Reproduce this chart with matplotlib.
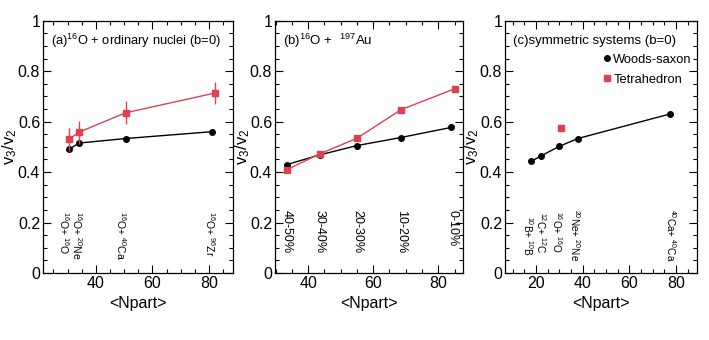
import matplotlib.pyplot as plt
from matplotlib.ticker import MultipleLocator, FuncFormatter

plt.rcParams['font.family'] = ['Liberation Sans', 'DejaVu Sans']
plt.rcParams['mathtext.fontset'] = 'custom'
plt.rcParams['mathtext.rm'] = 'Liberation Sans'
plt.rcParams['mathtext.it'] = 'Liberation Sans'

RED = '#e0404f'

# (a) 16O + ordinary nuclei
a_ws_x = [30.5, 34, 50.5, 81]
a_ws_y = [0.490, 0.515, 0.533, 0.560]
a_te_x = [30.5, 34, 50.5, 82]
a_te_y = [0.530, 0.558, 0.635, 0.713]
a_te_err = [0.045, 0.045, 0.045, 0.045]
a_lab_x = [28.6, 33.4, 48.8, 80.5]
a_lab = [r'$^{16}$O+ $^{16}$O', r'$^{16}$O+ $^{20}$Ne', r'$^{16}$O+ $^{40}$Ca', r'$^{16}$O+ $^{96}$Zr']

# (b) 16O + 197Au
b_ws_x = [33.5, 43.5, 55, 68.5, 84]
b_ws_y = [0.430, 0.468, 0.505, 0.537, 0.577]
b_te_x = [33.5, 43.5, 55, 68.5, 85]
b_te_y = [0.410, 0.472, 0.534, 0.647, 0.730]
b_lab_x = [33.5, 43.5, 55, 68.5, 84.5]
b_lab = ['40-50%', '30-40%', '20-30%', '10-20%', '0-10%']

# (c) symmetric systems
c_ws_x = [18, 22.3, 30, 37.9, 77.3]
c_ws_y = [0.443, 0.465, 0.502, 0.533, 0.630]
c_te_x = [30.6]
c_te_y = [0.575]
c_lab_x = [16.6, 22.2, 29.0, 36.8, 77.8]
c_lab_top = [0.225, 0.24, 0.245, 0.255, 0.255]
c_lab = [r'$^{10}$B+ $^{10}$B', r'$^{12}$C+ $^{12}$C', r'$^{16}$O+ $^{16}$O',
         r'$^{20}$Ne+ $^{20}$Ne', r'$^{40}$Ca+ $^{40}$Ca']

fig = plt.figure(figsize=(7.09, 3.40), dpi=100)
W, H = 709, 340
boxes = [(43, 233, 21.3, 88.5), (275, 463, 29.8, 87.6), (505, 697, 6.7, 89)]
axes = []
for (l, r, x0, x1) in boxes:
    ax = fig.add_axes([l / W, 1 - 273 / H, (r - l) / W, (273 - 20.7) / H])
    ax.set_xlim(x0, x1)
    ax.set_ylim(0, 1)
    ax.xaxis.set_major_locator(MultipleLocator(20))
    ax.xaxis.set_minor_locator(MultipleLocator(5))
    ax.yaxis.set_major_locator(MultipleLocator(0.2))
    ax.yaxis.set_minor_locator(MultipleLocator(0.05))
    ax.yaxis.set_major_formatter(FuncFormatter(lambda v, p: '%g' % round(v, 2)))
    ax.tick_params(which='both', direction='in', top=True, right=True, labelsize=11.5, width=0.8, pad=2)
    ax.tick_params(which='major', length=6)
    ax.tick_params(which='minor', length=3)
    ax.set_xlabel('<Npart>', fontsize=11.5, labelpad=4)
    ax.set_ylabel(r'v$_3$/v$_2$', fontsize=12)
    ax.yaxis.set_label_coords(-0.125, 0.5)
    for s in ax.spines.values():
        s.set_linewidth(0.9)
    axes.append(ax)

ax = axes[0]
ax.plot(a_ws_x, a_ws_y, '-o', color='black', ms=4, lw=1)
ax.errorbar(a_te_x, a_te_y, yerr=a_te_err, fmt='-s', color=RED, ms=5, lw=1, elinewidth=1)
for x, t in zip(a_lab_x, a_lab):
    ax.text(x, 0.245, t, rotation=-90, ha='center', va='top', fontsize=7.5)
ax.text(0.04, 0.92, r'(a)$^{16}$O + ordinary nuclei (b=0)', transform=ax.transAxes,
        fontsize=9.3, va='center')

ax = axes[1]
ax.plot(b_ws_x, b_ws_y, '-o', color='black', ms=4, lw=1)
ax.plot(b_te_x, b_te_y, '-s', color=RED, ms=5, lw=1)
for x, t in zip(b_lab_x, b_lab):
    ax.text(x, 0.25, t, rotation=-90, ha='center', va='top', fontsize=9)
ax.text(0.04, 0.92, r'(b)$^{16}$O +  $^{197}$Au', transform=ax.transAxes,
        fontsize=9.5, va='center')

ax = axes[2]
ax.plot(c_ws_x, c_ws_y, '-o', color='black', ms=4, lw=1, label='Woods-saxon')
ax.plot(c_te_x, c_te_y, 's', color=RED, ms=4.5, label='Tetrahedron')
for x, t, yt in zip(c_lab_x, c_lab, c_lab_top):
    ax.text(x, yt, t, rotation=-90, ha='center', va='top', fontsize=7.2)
ax.text(0.04, 0.92, '(c)symmetric systems (b=0)', transform=ax.transAxes,
        fontsize=9.5, va='center')
leg = ax.legend(loc='upper right', bbox_to_anchor=(1.02, 0.905), frameon=False, fontsize=9.3,
                handlelength=0.4, handletextpad=0.3, labelspacing=0.6, numpoints=1,
                borderpad=0.2)
for h in leg.legend_handles:
    h.set_linestyle('none')

fig.savefig('out.png', dpi=100)
